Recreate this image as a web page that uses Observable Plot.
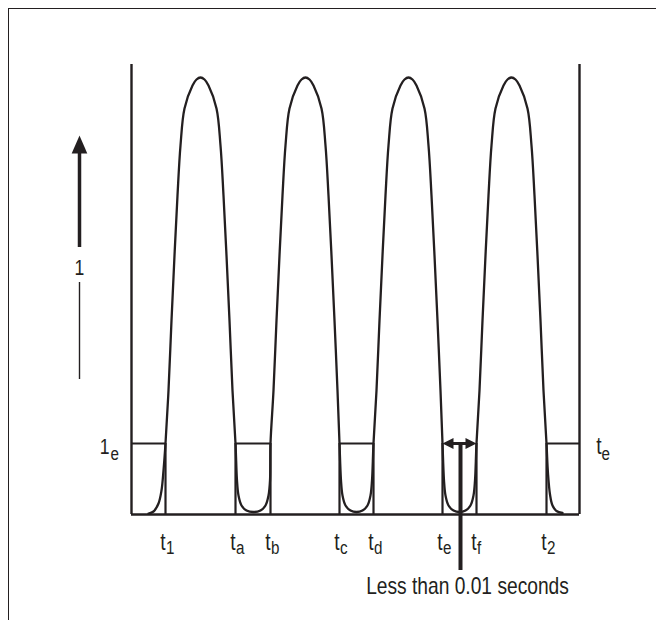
<!DOCTYPE html>
<html><head><meta charset="utf-8">
<script src="https://cdn.jsdelivr.net/npm/d3@7"></script>
<script src="https://cdn.jsdelivr.net/npm/@observablehq/plot@0.6"></script>
<style>
body{margin:0;background:#fff;}
#wrap{position:relative;width:656px;height:620px;overflow:hidden;background:#fff;}
#frame{position:absolute;left:8px;top:8px;width:700px;height:700px;border-top:1.5px solid #231f20;border-left:1.5px solid #231f20;}
#chart{position:absolute;left:0;top:0;}
</style></head><body>
<div id="wrap"><div id="frame"></div><div id="chart"></div></div>
<script>
// time in ms, current in arbitrary units
const curveTime = [1.7,2.2,2.7,3.0,3.2,3.4,3.7,4.0,4.3,4.6,4.9,5.3,6.1,6.5,6.9,7.3,7.7,8.5,8.9,9.2,9.5,9.8,10.1,10.4,
  10.55,10.7,11.0,11.5,12.2,12.9,13.4,13.7,13.85,13.9,
  14.2,14.5,14.8,15.1,15.4,15.8,16.6,17.0,17.4,17.8,18.2,19.0,19.4,19.7,20.0,20.3,20.6,20.8,
  20.95,21.1,21.4,21.9,22.5,23.1,23.6,23.9,24.05,24.2,
  24.5,24.8,25.1,25.4,25.7,26.1,26.9,27.3,27.7,28.1,28.5,29.3,29.7,30.0,30.3,30.6,30.9,31.1,
  31.25,31.4,31.7,32.2,32.8,33.4,33.9,34.2,34.35,34.5,
  34.8,35.1,35.4,35.7,36.0,36.4,37.2,37.6,38.0,38.4,38.8,39.6,40.0,40.3,40.6,40.9,41.2,41.5,
  41.65,41.85,42.1,42.5,43.1];
const curveCurrent = [0.1,0.3,1.1,2.4,4.4,7.1,12.4,19.4,25.9,31.9,36.9,40.6,42.9,43.5,43.7,43.5,42.9,40.6,36.9,31.9,25.9,19.4,12.4,7.1,
  3.4,1.9,0.9,0.4,0.25,0.4,0.9,1.9,3.4,7.1,
  12.4,19.4,25.9,31.9,36.9,40.6,42.9,43.5,43.7,43.5,42.9,40.6,36.9,31.9,25.9,19.4,12.4,7.1,
  3.4,1.9,0.9,0.4,0.25,0.4,0.9,1.9,3.4,7.1,
  12.4,19.4,25.9,31.9,36.9,40.6,42.9,43.5,43.7,43.5,42.9,40.6,36.9,31.9,25.9,19.4,12.4,7.1,
  3.4,1.9,0.9,0.4,0.25,0.4,0.9,1.9,3.4,7.1,
  12.4,19.4,25.9,31.9,36.9,40.6,42.9,43.5,43.7,43.5,42.9,40.6,36.9,31.9,25.9,19.4,12.4,7.1,
  4.1,2.0,0.9,0.35,0.15];

const tickTimes = [3.4, 10.4, 13.9, 20.8, 24.2, 31.1, 34.5, 41.5];
const tickSubs = ["1", "a", "b", "c", "d", "e", "f", "2"];
const thresholdIe = 7.1;
const thresholdSpans = [[0, 3.4], [10.4, 13.9], [20.8, 24.2], [41.5, 44.8]];
const timeMax = 44.8;
const currentMax = 45;
const gapSpan = [31.1, 34.5];          // te .. tf
const pointerTime = 32.9;
const pointerBottom = -5.6;
const noteText = "Less than 0.01 seconds";
const axisArrowTime = -5.2;
const axisArrowShaft = [26.7, 36.3];
const axisArrowTip = 37.9;
const axisLabelCurrent = 24.65;
const axisLineSpan = [13.5, 23.2];

const ink = "#231f20";
const font = '"Liberation Sans", Arial, sans-serif';
const narrow = 0.8;

const curve = curveTime.map((t, i) => ({t, c: curveCurrent[i]}));

function head(len, halfW, dir) {
  return {draw(ctx) {
    if (dir === "up") { ctx.moveTo(0, 0); ctx.lineTo(halfW, len); ctx.lineTo(-halfW, len); }
    if (dir === "left") { ctx.moveTo(0, 0); ctx.lineTo(len, -halfW); ctx.lineTo(len, halfW); }
    if (dir === "right") { ctx.moveTo(0, 0); ctx.lineTo(-len, -halfW); ctx.lineTo(-len, halfW); }
    ctx.closePath();
  }};
}

const plot = Plot.plot({
  width: 656, height: 620,
  marginLeft: 131, marginRight: 77, marginTop: 64, marginBottom: 106,
  x: {domain: [0, timeMax], axis: null},
  y: {domain: [0, currentMax], axis: null},
  style: {fontFamily: font, color: ink, background: "transparent"},
  marks: [
    Plot.ruleX([0, timeMax], {x: d => d, y1: () => 0, y2: () => currentMax, stroke: ink, strokeWidth: 2.4}),
    Plot.ruleY([0], {y: d => d, x1: () => 0, x2: () => timeMax, stroke: ink, strokeWidth: 2.6}),
    Plot.ruleY(thresholdSpans, {y: () => thresholdIe, x1: d => d[0], x2: d => d[1], stroke: ink, strokeWidth: 2.2}),
    Plot.ruleX(tickTimes, {x: d => d, y1: () => 0, y2: () => thresholdIe, stroke: ink, strokeWidth: 2.2}),
    Plot.line(curve, {x: "t", y: "c", curve: "catmull-rom", stroke: ink, strokeWidth: 2.3}),
    Plot.ruleY([thresholdIe], {y: d => d, x1: () => gapSpan[0] + 0.5, x2: () => gapSpan[1] - 0.5, stroke: ink, strokeWidth: 3}),
    Plot.dot([gapSpan[0]], {x: d => d, y: () => thresholdIe, symbol: head(11, 5.5, "left"), fill: ink, stroke: "none", r: 5}),
    Plot.dot([gapSpan[1]], {x: d => d, y: () => thresholdIe, symbol: head(11, 5.5, "right"), fill: ink, stroke: "none", r: 5}),
    Plot.ruleX([pointerTime], {x: d => d, y1: () => thresholdIe, y2: () => pointerBottom, stroke: ink, strokeWidth: 4}),
    Plot.text([noteText], {x: () => pointerTime, y: () => pointerBottom, text: d => d, dx: 7, dy: 23, lineAnchor: "bottom", textAnchor: "middle", fontSize: 24, fill: ink}),
    Plot.text(tickTimes, {x: d => d, y: () => 0, text: () => "t", textAnchor: "end", lineAnchor: "bottom", dy: 35, dx: 0, fontSize: 24, fill: ink}),
    Plot.text(tickTimes, {x: d => d, y: () => 0, text: (d, i) => tickSubs[i], textAnchor: "start", lineAnchor: "bottom", dy: 39.5, dx: 0.5, fontSize: 19, fill: ink}),
    Plot.text(["1"], {x: () => 0, y: () => thresholdIe, text: d => d, textAnchor: "end", lineAnchor: "bottom", dx: -22, dy: 10, fontSize: 22, fill: ink}),
    Plot.text(["e"], {x: () => 0, y: () => thresholdIe, text: d => d, textAnchor: "start", lineAnchor: "bottom", dx: -21, dy: 16, fontSize: 19, fill: ink}),
    Plot.text(["t"], {x: () => timeMax, y: () => thresholdIe, text: d => d, textAnchor: "end", lineAnchor: "bottom", dx: 22, dy: 10, fontSize: 24, fill: ink}),
    Plot.text(["e"], {x: () => timeMax, y: () => thresholdIe, text: d => d, textAnchor: "start", lineAnchor: "bottom", dx: 22, dy: 16, fontSize: 19, fill: ink}),
    Plot.ruleX([axisArrowTime], {x: d => d, y1: () => axisArrowShaft[0], y2: () => axisArrowShaft[1], stroke: ink, strokeWidth: 3.5}),
    Plot.dot([axisArrowTime], {x: d => d, y: () => axisArrowTip, symbol: head(18, 7.8, "up"), fill: ink, stroke: "none", r: 5}),
    Plot.text(["1"], {x: () => axisArrowTime, y: () => axisLabelCurrent, text: d => d, textAnchor: "middle", fontSize: 22, fill: ink}),
    Plot.ruleX([axisArrowTime], {x: d => d, y1: () => axisLineSpan[0], y2: () => axisLineSpan[1], stroke: ink, strokeWidth: 1.4})
  ]
});
// condensed lettering (narrow face is not installed)
plot.querySelectorAll("text").forEach(el => {
  const tr = el.getAttribute("transform") || "";
  el.setAttribute("transform", tr + ` scale(${narrow},1)`);
});
document.getElementById("chart").appendChild(plot);
</script>
</body></html>
